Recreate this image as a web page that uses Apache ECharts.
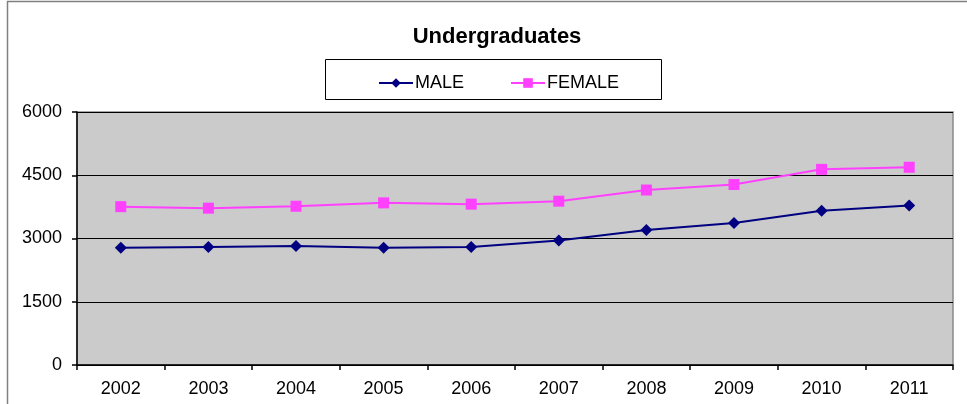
<!DOCTYPE html>
<html><head><meta charset="utf-8">
<script src="https://cdn.jsdelivr.net/npm/echarts@6/dist/echarts.min.js"></script>
<style>html,body{margin:0;padding:0;background:#fff}#c{width:967px;height:404px}</style>
</head><body><div id="c"></div>
<script>
const years = ['2002','2003','2004','2005','2006','2007','2008','2009','2010','2011'];
const male = [2780, 2800, 2825, 2780, 2800, 2950, 3200, 3365, 3660, 3780];
const female = [3755, 3720, 3765, 3845, 3815, 3885, 4150, 4280, 4640, 4690];
const yTicks = [0, 1500, 3000, 4500, 6000];

const chart = echarts.init(document.getElementById('c'), null, {renderer:'canvas'});
const font = 'Liberation Sans, Arial, sans-serif';
chart.setOption({
  animation:false,
  backgroundColor:'#fff',
  title:{text:'Undergraduates', left:492, textAlign:'center', top:21,
    textStyle:{fontFamily:font, fontSize:22, fontWeight:'bold', color:'#000'}},
  graphic:[
    {type:'rect', shape:{x:7.5,y:1.5,width:980,height:420}, style:{fill:'none', stroke:'#808080', lineWidth:1.5}, z:-10},
    {type:'rect', shape:{x:325.5,y:59.5,width:336,height:40}, style:{fill:'#fff', stroke:'#000', lineWidth:1}, z:-5}
  ],
  legend:{left:373, top:69, itemGap:46, itemWidth:34, itemHeight:12,
    textStyle:{fontFamily:font, fontSize:18, color:'#000', padding:[0,0,0,-3]},
    data:['MALE','FEMALE']},
  grid:{left:77, top:112, right:14, bottom:39, show:true, backgroundColor:'#CBCBCB', borderColor:'#8a8a8a', borderWidth:1.5},
  xAxis:{type:'category', data:years, boundaryGap:true,
    axisLine:{lineStyle:{color:'#000', width:1.5}},
    axisTick:{show:true, length:5, lineStyle:{color:'#000', width:1.5}},
    axisLabel:{fontFamily:font, fontSize:18, color:'#000', margin:15}},
  yAxis:{type:'value', min:0, max:6000, interval:1500,
    axisLine:{show:true, lineStyle:{color:'#000', width:1.5}},
    axisTick:{show:true, length:5, lineStyle:{color:'#000', width:1.5}},
    axisLabel:{fontFamily:font, fontSize:18, color:'#000', margin:15,
      formatter:v => yTicks.includes(v) ? String(v) : ''},
    splitLine:{show:true, lineStyle:{color:'#000', width:1}}},
  series:[
    {name:'MALE', type:'line', data:male, symbol:'diamond', symbolSize:12,
      itemStyle:{color:'#000080'}, lineStyle:{color:'#000080', width:2}},
    {name:'FEMALE', type:'line', data:female, symbol:'rect', symbolSize:11,
      itemStyle:{color:'#FF40FF'}, lineStyle:{color:'#FF40FF', width:2}}
  ]
});
</script></body></html>
